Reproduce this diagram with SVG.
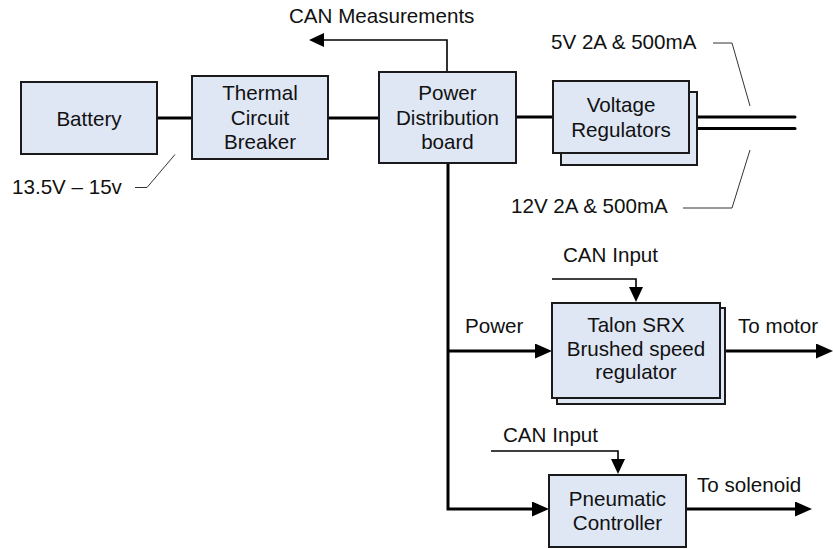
<svg xmlns="http://www.w3.org/2000/svg" width="833" height="549" viewBox="0 0 833 549">
<style>
  text { font-family: "Liberation Sans", Arial, sans-serif; font-size: 20.6px; fill: #111; }
  .c { text-anchor: middle; }
  .box { fill: #dfe7f5; stroke: #1a1a1a; stroke-width: 2; }
  .thick { fill: none; stroke: #000; stroke-width: 3; }
  .thin { fill: none; stroke: #000; stroke-width: 1.6; }
  .lead { fill: none; stroke: #333; stroke-width: 1; }
</style>
<defs>
  <marker id="arrowBig" markerUnits="userSpaceOnUse" markerWidth="18" markerHeight="16" refX="9" refY="7.5" orient="auto" viewBox="0 0 18 16">
    <path d="M0,0 L17,7.5 L0,15 z" fill="#000"/>
  </marker>
  <marker id="arrowSmall" markerUnits="userSpaceOnUse" markerWidth="16" markerHeight="16" refX="8" refY="7" orient="auto" viewBox="0 0 16 16">
    <path d="M0,0 L15,7 L0,14 z" fill="#000"/>
  </marker>
</defs>

<g id="connectors">
  <line class="thick" x1="157" y1="118" x2="192" y2="118"/>
  <line class="thick" x1="328" y1="118" x2="379" y2="118"/>
  <line class="thick" x1="516" y1="117" x2="553" y2="117"/>
  <polyline class="thin" points="447,72 447,40 316,40" marker-end="url(#arrowSmall)"/>
  <polyline class="thick" points="448,163 448,509 541,509" marker-end="url(#arrowBig)"/>
  <line class="thick" x1="448" y1="351" x2="544" y2="351" marker-end="url(#arrowBig)"/>
  <line class="thick" x1="720" y1="351" x2="825" y2="351" marker-end="url(#arrowBig)"/>
  <line class="thick" x1="686" y1="509" x2="804" y2="509" marker-end="url(#arrowBig)"/>
  <polyline class="thin" points="552,279 636,279 636,295" marker-end="url(#arrowSmall)"/>
  <polyline class="thin" points="491,451 618,451 618,467" marker-end="url(#arrowSmall)"/>
  <line class="thick" x1="689" y1="117" x2="795" y2="117" stroke-linecap="round"/>
  <line class="thick" x1="697" y1="128.5" x2="795" y2="128.5" stroke-linecap="round"/>
  <polyline class="lead" points="135,187.5 147,187.5 175,154.5"/>
  <polyline class="lead" points="713,43 732,43 750,106"/>
  <polyline class="lead" points="683,208 732,208 750,150"/>
</g>

<g id="battery">
  <rect class="box" x="21" y="82" width="136" height="72"/>
  <text class="c" x="89" y="125.5">Battery</text>
</g>
<g id="thermal-breaker">
  <rect class="box" x="192" y="76" width="136" height="83"/>
  <text class="c" x="260" y="100">Thermal</text>
  <text class="c" x="260" y="124.5">Circuit</text>
  <text class="c" x="260" y="149">Breaker</text>
</g>
<g id="pdb">
  <rect class="box" x="379" y="72" width="137" height="91"/>
  <text class="c" x="447.5" y="100">Power</text>
  <text class="c" x="447.5" y="124.5">Distribution</text>
  <text class="c" x="447.5" y="149">board</text>
</g>
<g id="voltage-regulators">
  <rect class="box" x="561" y="92" width="136" height="73"/>
  <rect class="box" x="553" y="81" width="136" height="72"/>
  <text class="c" x="621" y="112">Voltage</text>
  <text class="c" x="621" y="136.5">Regulators</text>
</g>
<g id="talon">
  <rect class="box" x="557" y="308" width="168" height="96"/>
  <rect class="box" x="552" y="303" width="168" height="95"/>
  <text class="c" x="636" y="332">Talon SRX</text>
  <text class="c" x="636" y="355.5">Brushed speed</text>
  <text class="c" x="636" y="379">regulator</text>
</g>
<g id="pneumatic">
  <rect class="box" x="549" y="475" width="137" height="72"/>
  <text class="c" x="617.5" y="506">Pneumatic</text>
  <text class="c" x="617.5" y="530">Controller</text>
</g>

<g id="labels">
  <text x="289" y="23">CAN Measurements</text>
  <text x="12" y="194">13.5V – 15v</text>
  <text x="551" y="49">5V 2A &amp; 500mA</text>
  <text x="511" y="213">12V 2A &amp; 500mA</text>
  <text x="465" y="333">Power</text>
  <text x="563" y="262">CAN Input</text>
  <text x="738" y="333">To motor</text>
  <text x="503" y="442">CAN Input</text>
  <text x="697" y="492">To solenoid</text>
</g>
</svg>
